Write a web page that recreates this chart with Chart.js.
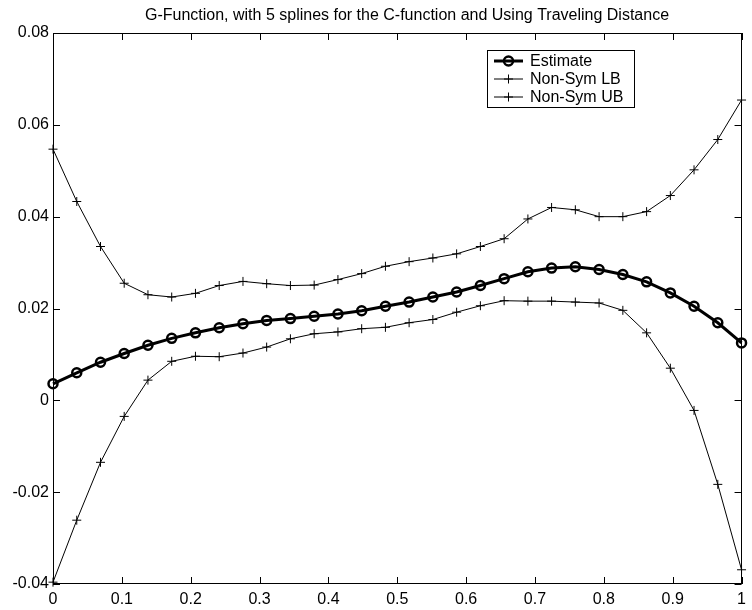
<!DOCTYPE html>
<html>
<head>
<meta charset="utf-8">
<script src="https://cdn.jsdelivr.net/npm/chart.js@4/dist/chart.umd.min.js"></script>
<style>
  html, body { margin: 0; padding: 0; background: #fff; }
  #wrap { width: 752px; height: 610px; position: relative; }
</style>
</head>
<body>
<div id="wrap"><canvas id="c" width="752" height="610"></canvas></div>
<script>
const chartTitle = "G-Function, with 5 splines for the C-function and Using Traveling Distance";
const seriesNames = ["Estimate", "Non-Sym LB", "Non-Sym UB"];
const xValues = [0, 0.0345, 0.0690, 0.1034, 0.1379, 0.1724, 0.2069, 0.2414, 0.2759, 0.3103,
  0.3448, 0.3793, 0.4138, 0.4483, 0.4828, 0.5172, 0.5517, 0.5862, 0.6207, 0.6552,
  0.6897, 0.7241, 0.7586, 0.7931, 0.8276, 0.8621, 0.8966, 0.9310, 0.9655, 1];
const estimate = [0.0036, 0.0060, 0.0083, 0.0102, 0.0120, 0.0135, 0.0147, 0.0158, 0.0167, 0.0174,
  0.0178, 0.0183, 0.0188, 0.0195, 0.0205, 0.0214, 0.0225, 0.0236, 0.0250, 0.0265,
  0.0280, 0.0288, 0.0291, 0.0285, 0.0274, 0.0258, 0.0234, 0.0205, 0.0169, 0.0125];
const lowerBound = [-0.0396, -0.0261, -0.0135, -0.0035, 0.0044, 0.0085, 0.0096, 0.0095, 0.0103, 0.0116,
  0.0134, 0.0145, 0.0149, 0.0156, 0.0159, 0.0169, 0.0176, 0.0192, 0.0206, 0.0217,
  0.0216, 0.0216, 0.0214, 0.0212, 0.0196, 0.0147, 0.0070, -0.0022, -0.0183, -0.0369];
const upperBound = [0.0547, 0.0433, 0.0335, 0.0255, 0.0230, 0.0225, 0.0233, 0.0250, 0.0259, 0.0254,
  0.0250, 0.0251, 0.0263, 0.0276, 0.0292, 0.0302, 0.0310, 0.0319, 0.0335, 0.0352,
  0.0395, 0.0420, 0.0415, 0.0400, 0.0400, 0.0411, 0.0446, 0.0502, 0.0568, 0.0654];
const xTicks = [0, 0.1, 0.2, 0.3, 0.4, 0.5, 0.6, 0.7, 0.8, 0.9, 1];
const yTicks = [-0.04, -0.02, 0, 0.02, 0.04, 0.06, 0.08];

const FONT = "'Liberation Sans', Arial, Helvetica, sans-serif";

function pts(ys) { return xValues.map((x, i) => ({ x: x, y: ys[i] })); }
function fmt(v) {
  if (Math.abs(v) < 1e-9) return "0";
  return String(parseFloat(v.toFixed(3)));
}

const frame = {
  id: 'frame',
  afterDatasetsDraw(chart) {
    const ctx = chart.ctx, a = chart.chartArea;
    const xs = chart.scales.x, ys = chart.scales.y;
    ctx.save();
    ctx.strokeStyle = '#000';
    ctx.lineWidth = 1;
    ctx.strokeRect(Math.round(a.left) + 0.5, Math.round(a.top) + 0.5,
      Math.round(a.right - a.left) - 1, Math.round(a.bottom - a.top) - 1);
    const L = 7;
    ctx.beginPath();
    xTicks.forEach(v => {
      const p = Math.round(xs.getPixelForValue(v)) + 0.5;
      ctx.moveTo(p, a.bottom); ctx.lineTo(p, a.bottom - L);
      ctx.moveTo(p, a.top); ctx.lineTo(p, a.top + L);
    });
    yTicks.forEach(v => {
      const p = Math.round(ys.getPixelForValue(v)) + 0.5;
      ctx.moveTo(a.left, p); ctx.lineTo(a.left + L, p);
      ctx.moveTo(a.right, p); ctx.lineTo(a.right - L, p);
    });
    ctx.stroke();

    // title
    ctx.fillStyle = '#000';
    ctx.font = '16px ' + FONT;
    ctx.textAlign = 'center';
    ctx.textBaseline = 'middle';
    ctx.fillText(chartTitle, 407, 16);

    // legend
    const bx = 487, by = 50, bw = 147, bh = 57;
    ctx.fillStyle = '#fff';
    ctx.fillRect(bx, by, bw, bh);
    ctx.strokeRect(bx + 0.5, by + 0.5, bw, bh);
    const rows = [61, 79, 97];
    chart.data.datasets.forEach((ds, i) => {
      const y = rows[i];
      ctx.strokeStyle = '#000';
      ctx.lineWidth = ds.borderWidth;
      ctx.beginPath();
      ctx.moveTo(494, y); ctx.lineTo(523, y);
      ctx.stroke();
      ctx.lineWidth = ds.pointBorderWidth;
      ctx.beginPath();
      if (ds.pointStyle === 'circle') {
        ctx.arc(508.5, y, ds.pointRadius, 0, Math.PI * 2);
      } else {
        ctx.moveTo(508.5 - ds.pointRadius, y); ctx.lineTo(508.5 + ds.pointRadius, y);
        ctx.moveTo(508.5, y - ds.pointRadius); ctx.lineTo(508.5, y + ds.pointRadius);
      }
      ctx.stroke();
      ctx.fillStyle = '#000';
      ctx.font = '16px ' + FONT;
      ctx.textAlign = 'left';
      ctx.fillText(ds.label, 530, y + 0.5);
    });
    ctx.restore();
  }
};

new Chart(document.getElementById('c'), {
  type: 'line',
  data: {
    datasets: [
      { label: seriesNames[0], data: pts(estimate), borderColor: '#000', borderWidth: 3,
        pointStyle: 'circle', pointRadius: 4.5, pointBorderWidth: 2.5, pointBorderColor: '#000',
        pointBackgroundColor: 'rgba(0,0,0,0)', tension: 0 },
      { label: seriesNames[1], data: pts(lowerBound), borderColor: '#000', borderWidth: 1,
        pointStyle: 'cross', pointRadius: 4.5, pointBorderWidth: 1, pointBorderColor: '#000', tension: 0 },
      { label: seriesNames[2], data: pts(upperBound), borderColor: '#000', borderWidth: 1,
        pointStyle: 'cross', pointRadius: 4.5, pointBorderWidth: 1, pointBorderColor: '#000', tension: 0 }
    ]
  },
  options: {
    responsive: false,
    animation: false,
    clip: false,
    layout: { padding: { top: 33, right: 4, left: 0, bottom: 0 } },
    plugins: { legend: { display: false }, title: { display: false }, tooltip: { enabled: false } },
    scales: {
      x: {
        type: 'linear', min: 0, max: 1,
        grid: { display: false, drawTicks: false },
        border: { display: false },
        ticks: { stepSize: 0.1, color: '#000', font: { family: FONT, size: 16 }, padding: 6,
          maxRotation: 0, autoSkip: false, callback: v => fmt(v) },
        afterFit: s => { s.height = 26; }
      },
      y: {
        type: 'linear', min: -0.04, max: 0.08,
        grid: { display: false, drawTicks: false },
        border: { display: false },
        ticks: { stepSize: 0.02, color: '#000', font: { family: FONT, size: 16 }, padding: 4,
          autoSkip: false, callback: v => fmt(v) },
        afterFit: s => { s.width = 53; }
      }
    }
  },
  plugins: [frame]
});
</script>
</body>
</html>
